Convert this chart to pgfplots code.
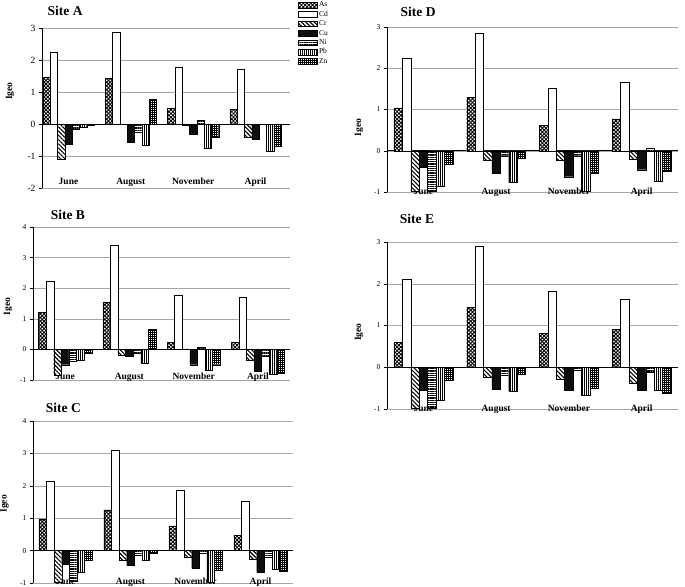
\documentclass[border=0pt]{standalone}
\usepackage{pgfplots}
\pgfplotsset{compat=1.18}
\usepackage{pgfplotstable}
\usetikzlibrary{patterns,patterns.meta}
\usepackage{fontspec}
\setmainfont{Liberation Serif}

% Igeo per site, rows = June, August, November, April
\pgfplotstableread{
x As Cd Cr Cu Ni Pb Zn
0 1.47 2.25 -1.10 -0.63 -0.15 -0.10 -0.03
1 1.42 2.87 -0.02 -0.58 -0.25 -0.65 0.77
2 0.50 1.78 -0.03 -0.33 0.12 -0.76 -0.40
3 0.45 1.70 -0.40 -0.47 -0.02 -0.85 -0.70
}\siteA
\pgfplotstableread{
x As Cd Cr Cu Ni Pb Zn
0 1.20 2.23 -0.85 -0.50 -0.40 -0.35 -0.12
1 1.54 3.39 -0.18 -0.22 -0.11 -0.46 0.66
2 0.24 1.78 0.02 -0.50 0.06 -0.68 -0.50
3 0.22 1.69 -0.36 -0.72 -0.23 -0.80 -0.78
}\siteB
\pgfplotstableread{
x As Cd Cr Cu Ni Pb Zn
0 0.98 2.15 -0.99 -0.42 -0.94 -0.67 -0.29
1 1.26 3.09 -0.29 -0.46 -0.13 -0.30 -0.07
2 0.76 1.87 -0.21 -0.55 -0.08 -0.99 -0.60
3 0.48 1.54 -0.27 -0.67 -0.21 -0.58 -0.63
}\siteC
\pgfplotstableread{
x As Cd Cr Cu Ni Pb Zn
0 1.04 2.24 -0.98 -0.40 -0.99 -0.87 -0.32
1 1.29 2.86 -0.24 -0.55 -0.12 -0.77 -0.18
2 0.61 1.52 -0.24 -0.63 -0.12 -0.98 -0.55
3 0.77 1.65 -0.20 -0.46 0.05 -0.73 -0.49
}\siteD
\pgfplotstableread{
x As Cd Cr Cu Ni Pb Zn
0 0.59 2.10 -0.97 -0.56 -0.99 -0.80 -0.32
1 1.44 2.90 -0.25 -0.52 -0.18 -0.58 -0.17
2 0.81 1.83 -0.28 -0.56 -0.07 -0.68 -0.50
3 0.90 1.63 -0.39 -0.56 -0.11 -0.54 -0.63
}\siteE

\tikzset{
  AsS/.style={fill=white, postaction={pattern={Hatch[angle=45,distance=2.6pt,line width=0.9pt]}}},
  CdS/.style={fill=white},
  CrS/.style={fill=white, postaction={pattern={Lines[angle=-45,distance=3pt,line width=1.1pt]}}},
  CuS/.style={fill=black, postaction={pattern={Dots[distance=2pt,radius=0.35pt]}, pattern color=gray!60}},
  NiS/.style={fill=white, postaction={pattern={Lines[angle=0,distance=1.8pt,line width=0.6pt]}}},
  PbS/.style={fill=white, postaction={pattern={Lines[angle=90,distance=2pt,line width=0.6pt]}}},
  ZnS/.style={fill=white, postaction={pattern={Hatch[angle=0,distance=2pt,line width=0.5pt]}}},
}

\newcommand\bars[1]{%
  \addplot[AsS] table[x=x,y=As]{#1};
  \addplot[CdS] table[x=x,y=Cd]{#1};
  \addplot[CrS] table[x=x,y=Cr]{#1};
  \addplot[CuS] table[x=x,y=Cu]{#1};
  \addplot[NiS] table[x=x,y=Ni]{#1};
  \addplot[PbS] table[x=x,y=Pb]{#1};
  \addplot[ZnS] table[x=x,y=Zn]{#1};
}

\pgfplotsset{
  site/.style={
    scale only axis, anchor=south west,
    ybar=0pt, enlargelimits=false,
    xmin=-0.5, xmax=3.5,
    axis y line*=left, axis x line*=bottom,
    x axis line style={draw=none},
    y axis line style={-, black, line width=0.6pt},
    ymajorgrids, major grid style={gray!70, line width=0.5pt},
    extra y ticks={0}, extra y tick labels={},
    extra y tick style={grid=major, major grid style={black, line width=0.6pt}, tick style={draw=none}},
    xtick={0,1,2,3}, xticklabels={June,August,November,April},
    xtick style={draw=none},
    xticklabel style={font=\bfseries\fontsize{9.5}{10}\selectfont, anchor=base},
    ytick distance=1, tick align=outside, major tick length=3pt,
    ytick style={black, line width=0.5pt},
    /pgf/number format/assume math mode=true,
    yticklabel style={font=\fontsize{7.5}{8}\selectfont},
    ylabel=Igeo,
    ylabel style={font=\bfseries\fontsize{9.5}{10}\selectfont, anchor=center},
    title style={font=\bfseries\fontsize{13.5}{14}\selectfont, anchor=center, yshift=-7pt},
    every axis plot/.append style={draw=black, line width=0.4pt},
  }
}

\begin{document}
\begin{tikzpicture}
\useasboundingbox (0,0) rectangle (685pt,-586pt);

% Site A
\begin{axis}[site, at={(42pt,-188pt)}, width=248pt, height=160pt,
  ymin=-2, ymax=3, xmin=-0.425, xmax=3.553, bar width=7.3pt,
  title=Site A, title style={at={(axis description cs:0.093,1.1125)}},
  ylabel style={at={(axis description cs:-0.129,0.606)}},
  yticklabel style={font=\fontsize{9.5}{10}\selectfont},
  xticklabels={June\hspace{26pt},August,November,April},
  xticklabel style={yshift=7pt},
  legend cell align=left,
  legend image code/.code={\draw[#1] (0pt,-2.8pt) rectangle (19pt,2.8pt);},
  legend style={at={(axis description cs:1.032,1.168)}, anchor=north west,
    draw=none, fill=none, inner sep=0pt, row sep=1.9pt, column sep=1pt,
    font=\fontsize{7.5}{8}\selectfont,
    nodes={inner sep=0.5pt, text height=5pt, text depth=1.5pt}}]
\bars{\siteA}
\legend{As,Cd,Cr,Cu,Ni,Pb,Zn}
\end{axis}

% Site B
\begin{axis}[site, at={(33pt,-380pt)}, width=257pt, height=153pt,
  ymin=-1, ymax=4, bar width=7.6pt,
  title=Site B, title style={at={(axis description cs:0.136,1.085)}},
  ylabel style={at={(axis description cs:-0.097,0.48)}},
  xticklabels={June\hspace{14pt},August,November,April},
  xticklabel style={yshift=4pt}]
\bars{\siteB}
\end{axis}

% Site C
\begin{axis}[site, at={(33pt,-583pt)}, width=260pt, height=162pt,
  ymin=-1, ymax=4, bar width=7.6pt,
  title=Site C, title style={at={(axis description cs:0.117,1.086)}},
  ylabel style={at={(axis description cs:-0.109,0.488)}},
  xticklabel style={yshift=2pt}]
\bars{\siteC}
\end{axis}

% Site D
\begin{axis}[site, at={(387pt,-192pt)}, width=291pt, height=165pt,
  ymin=-1, ymax=3, bar width=8.4pt,
  title=Site D, title style={at={(axis description cs:0.107,1.097)}},
  ylabel style={at={(axis description cs:-0.096,0.39)}},
  xticklabel style={yshift=1pt}]
\bars{\siteD}
\end{axis}

% Site E
\begin{axis}[site, at={(387pt,-409pt)}, width=291pt, height=167pt,
  ymin=-1, ymax=3, bar width=8.4pt,
  title=Site E, title style={at={(axis description cs:0.103,1.144)}},
  ylabel style={at={(axis description cs:-0.096,0.46)}},
  xticklabel style={yshift=1pt}]
\bars{\siteE}
\end{axis}
\end{tikzpicture}
\end{document}
